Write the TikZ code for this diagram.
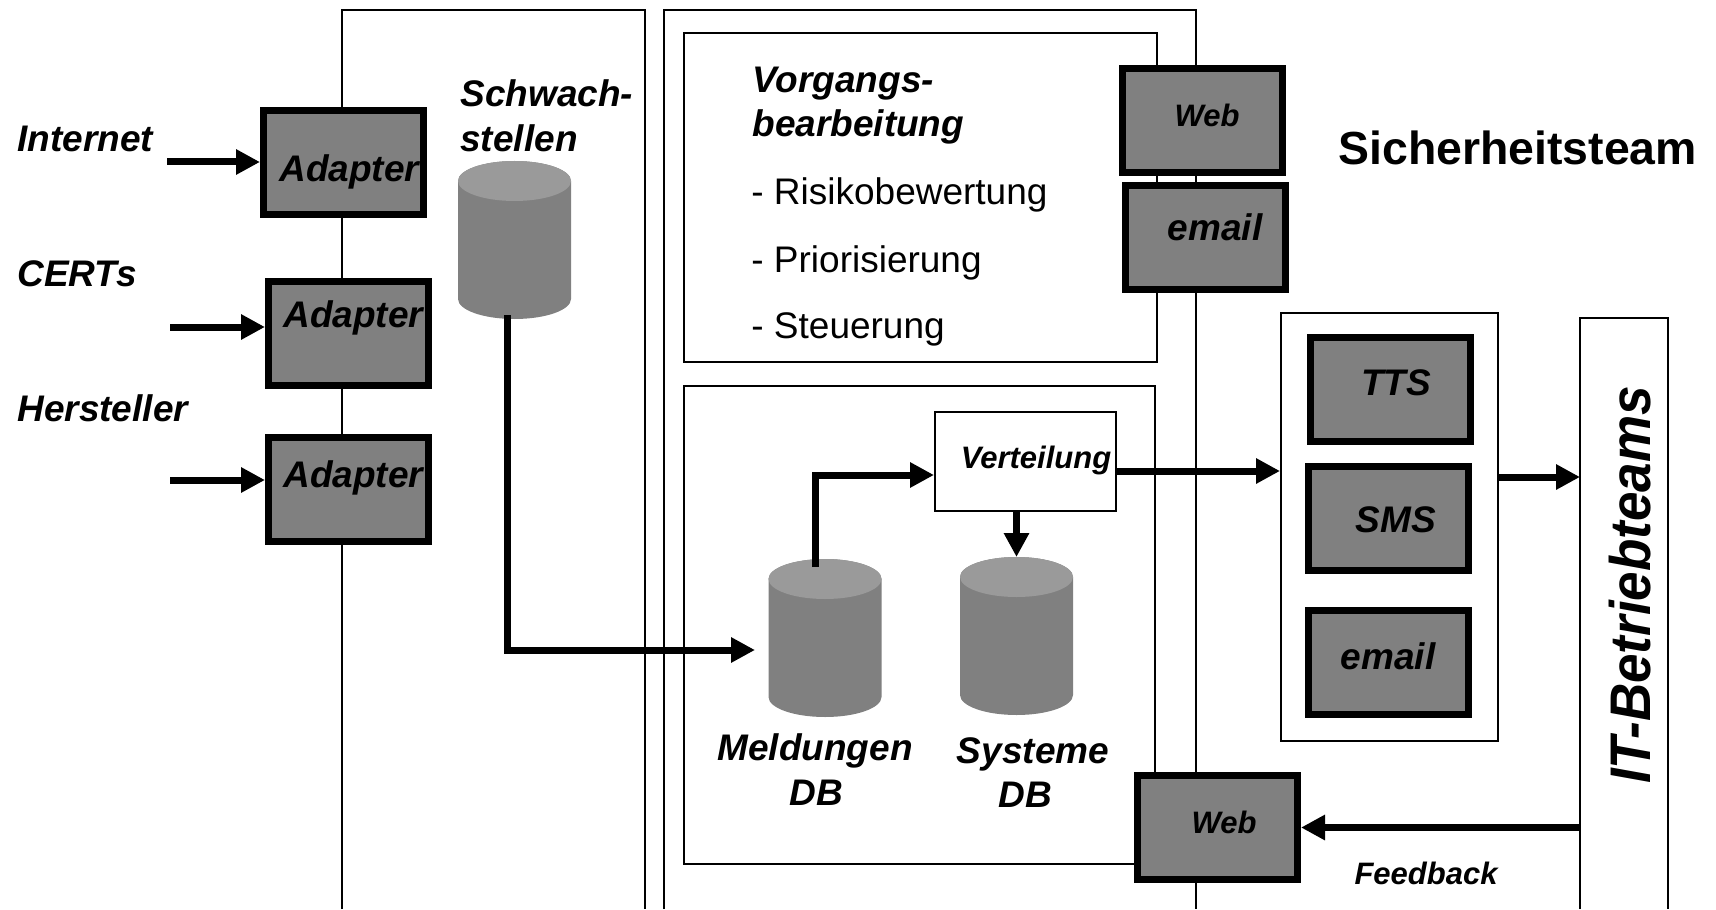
\documentclass[tikz,border=0pt]{standalone}
\usepackage{fontspec}
\setmainfont{Liberation Sans}
\usepackage{tikz}
\usepackage{xcolor}
\usetikzlibrary{arrows.meta}

\definecolor{boxgray}{HTML}{808080}
\definecolor{topgray}{HTML}{9A9A9A}

% cylinder drawn into an empty node of the same size
\newcommand{\dbcyl}[1]{%
  \fill[boxgray] ([yshift=-10pt]#1.north west) -- ([yshift=10pt]#1.south west)
    arc[start angle=180,end angle=360,x radius=28.25pt,y radius=10pt]
    -- ([yshift=-10pt]#1.north east)
    arc[start angle=0,end angle=180,x radius=28.25pt,y radius=10pt] -- cycle;
  \fill[topgray] ([yshift=-10pt]#1.north) ellipse[x radius=28.25pt,y radius=10pt];}

\begin{document}
\begin{tikzpicture}%
  [x=0.5pt,y=-0.5pt,inner sep=0pt]
  \tikzstyle{frame}=[draw,line width=1pt]
  \tikzstyle{gray box}=[draw,line width=3.5pt,fill=boxgray,minimum width=80pt,minimum height=52pt]
  \tikzstyle{db}=[minimum width=56.5pt,minimum height=79pt,outer sep=0pt]
  \tikzstyle{flow}=[line width=3.5pt,-{Triangle[length=12pt,width=12pt]}]
  \tikzstyle{lbl}=[font=\fontsize{18.5pt}{22pt}\selectfont\bfseries\itshape,anchor=base west]
  \tikzstyle{lbl c}=[lbl,anchor=base]
  \tikzstyle{small}=[font=\fontsize{15.5pt}{18pt}\selectfont\bfseries\itshape,anchor=base]
  \tikzstyle{item}=[font=\fontsize{18.5pt}{22pt}\selectfont,anchor=base west]
  \useasboundingbox (0,0) rectangle (1716,909);
  % columns
  \draw[line width=1pt] (342,909) |- (645,10) -- (645,909);
  \draw[line width=1pt] (664,909) |- (1196,10) -- (1196,909);
  \draw[line width=1pt] (1580,909) |- (1668,318) -- (1668,909);
  \coordinate (itcol) at (1580,318);
  \draw[line width=1pt] (684,33) rectangle (1157,362);
  \draw[line width=1pt] (684,386) rectangle (1155,864);
  \node[frame,minimum width=108.5pt,minimum height=214pt] (chan) at (1389.5,527) {};
  % sources
  \node[gray box] (ad1) at (343.5,162.5) {};
  \node[gray box] (ad2) at (348.5,333.5) {};
  \node[gray box] (ad3) at (348.5,489) {};
  \node[lbl] (ad1t) at (279,182) {Adapter};
  \node[lbl] (ad2t) at (283,327) {Adapter};
  \node[lbl] (ad3t) at (283,487) {Adapter};
  \node[lbl] (inet) at (17,152) {Internet};
  \node[lbl] (certs) at (17,286) {CERTs};
  \node[lbl] (herst) at (17,421) {Hersteller};
  \coordinate (inetin) at (167,162);
  \coordinate (certin) at (170,327);
  \coordinate (herstin) at (170,480);
  \draw[flow] (inetin) -- (inetin -| ad1.west);
  \draw[flow] (certin) -- (certin -| ad2.west);
  \draw[flow] (herstin) -- (herstin -| ad3.west);
  % Schwachstellen
  \node[lbl] (schwt) at (460,107) {Schwach-};
  \node[lbl] (schwt2) at (460,152) {stellen};
  \node[db] (schw) at (514.5,240) {};
  \dbcyl{schw}
  % Vorgangsbearbeitung
  \node[lbl] (vorg) at (752,93) {Vorgangs-};
  \node[lbl] (vorg2) at (752,137) {bearbeitung};
  \node[item] (risk) at (751,205) {- Risikobewertung};
  \node[item] (prio) at (751,272) {- Priorisierung};
  \node[item] (steu) at (751,338) {- Steuerung};
  \node[gray box] (web1) at (1202.5,120.5) {};
  \node[gray box] (mail1) at (1205.5,237.5) {};
  \node[small] (web1t) at (1207,127) {Web};
  \node[lbl c] (mail1t) at (1215,241) {email};
  \node[font=\fontsize{23.2pt}{27pt}\selectfont\bfseries,anchor=base west] (team) at (1338,165) {Sicherheitsteam};
  % channels
  \node[gray box] (tts) at (1390,389.5) {};
  \node[gray box] (sms) at (1388,518) {};
  \node[gray box] (mail2) at (1388,662.5) {};
  \node[lbl c] (ttst) at (1396,395) {TTS};
  \node[lbl c] (smst) at (1396,532) {SMS};
  \node[lbl c] (mail2t) at (1388,669) {email};
  \node[rotate=90,anchor=base,font=\fontsize{26.5pt}{30pt}\selectfont\bfseries\itshape] (itteam) at (1650,585) {\scalebox{1}[1.08]{IT-Betriebteams}};
  % Meldungen / Systeme
  \node[frame,minimum width=90.5pt,minimum height=49.5pt] (vert) at (1025.5,461.5) {};
  \node[small] (vertt) at (1036,468) {Verteilung};
  \node[db] (meld) at (825,638) {};
  \node[db] (sys) at (1016.5,636) {};
  \dbcyl{meld}
  \dbcyl{sys}
  \node[lbl c] (meldt) at (815,760) {Meldungen};
  \node[lbl c] (meldt2) at (816,805) {DB};
  \node[lbl c] (syst) at (1033,763) {Systeme};
  \node[lbl c] (syst2) at (1025,807) {DB};
  \node[gray box] (web2) at (1217.5,827.5) {};
  \node[small] (web2t) at (1224,833) {Web};
  \node[small] (feed) at (1426,884) {Feedback};
  % flows
  \draw[flow] ([shift={(-7,-4)}]schw.south) |- ([shift={(-13.5,12)}]meld.west);
  \draw[flow] ([shift={(-10,8)}]meld.north) |- ([shift={(0,13.5)}]vert.west);
  \draw[flow] (vert.south -| sys.north) -- (sys.north);
  \coordinate (vout) at ([shift={(0,9.5)}]vert.east);
  \draw[flow] (vout) -- (vout -| chan.west);
  \coordinate (chout) at ([shift={(0,-50)}]chan.east);
  \draw[flow] (chout) -- (chout -| itcol);
  \draw[flow] (itcol |- web2.east) -- (web2.east);
\end{tikzpicture}
\end{document}
